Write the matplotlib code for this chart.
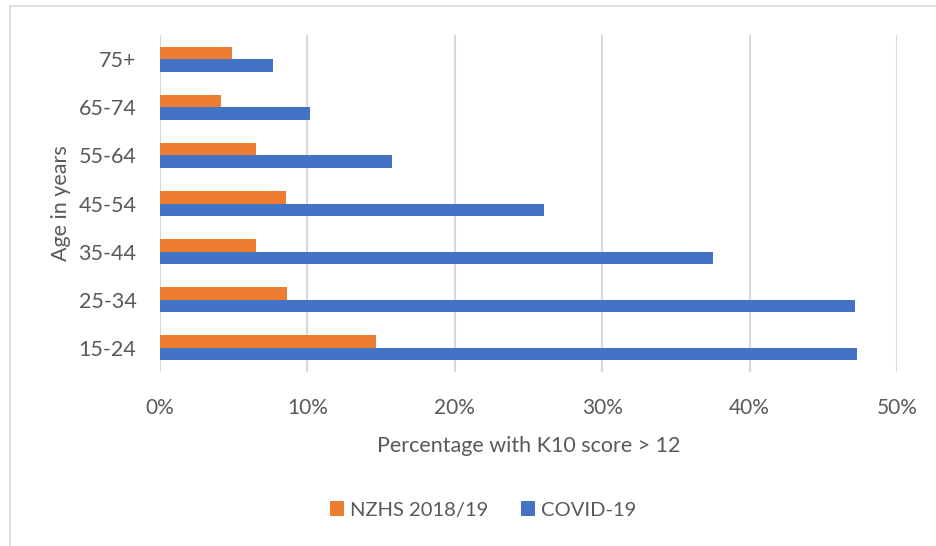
import matplotlib
matplotlib.use("Agg")
import matplotlib.pyplot as plt
from matplotlib.lines import Line2D
import numpy as np

categories = ["15-24", "25-34", "35-44", "45-54", "55-64", "65-74", "75+"]
nzhs = [14.65, 8.64, 6.54, 8.55, 6.54, 4.16, 4.86]
covid = [47.31, 47.13, 37.5, 26.07, 15.76, 10.15, 7.64]
xticks = [0, 10, 20, 30, 40, 50]
xticklabels = ["0%", "10%", "20%", "30%", "40%", "50%"]

plt.rcParams['font.family'] = ['Lato', 'DejaVu Sans']
TXT = "#595959"
W, H = 937, 546
fig = plt.figure(figsize=(W / 100, H / 100), dpi=100)
ax = fig.add_axes([160 / W, (H - 372) / H, (897 - 160) / W, (372 - 35) / H])

y = np.arange(len(categories))
bh = 0.26
ax.barh(y + bh / 2, nzhs, height=bh, color="#ED7D31", label="NZHS 2018/19", zorder=3)
ax.barh(y - bh / 2, covid, height=bh, color="#4472C4", label="COVID-19", zorder=3)

ax.set_xlim(0, 50)
ax.set_ylim(-0.5, len(categories) - 0.5)
ax.set_xticks(xticks)
ax.set_xticklabels(xticklabels)
ax.set_yticks(y)
ax.set_yticklabels(categories)
ax.tick_params(axis='x', length=0, pad=19, labelsize=15, labelcolor=TXT)
ax.tick_params(axis='y', length=0, pad=17, labelsize=15.5, labelcolor=TXT)
ax.grid(axis='x', color="#D9D9D9", linewidth=1.5, zorder=0)
for s in ax.spines.values():
    s.set_visible(False)

ax.set_ylabel("Age in years", fontsize=15.5, color=TXT, labelpad=5)
ax.set_xlabel("Percentage with K10 score > 12", fontsize=15.5, color=TXT, labelpad=13)

leg = fig.legend(loc="center", bbox_to_anchor=(483 / W, 1 - 510 / H), ncol=2,
                 frameon=False, fontsize=14.5, handlelength=0.7, handleheight=0.7,
                 handletextpad=0.3, columnspacing=1.6)
for t in leg.get_texts():
    t.set_color(TXT)

# chart frame lines (top and left)
fig.add_artist(Line2D([10 / W, 1], [1 - 6 / H, 1 - 6 / H], color="#D9D9D9", lw=1.2,
                      transform=fig.transFigure))
fig.add_artist(Line2D([10 / W, 10 / W], [0, 1 - 6 / H], color="#D9D9D9", lw=1.2,
                      transform=fig.transFigure))

fig.savefig("out.png", dpi=100, facecolor="white")
